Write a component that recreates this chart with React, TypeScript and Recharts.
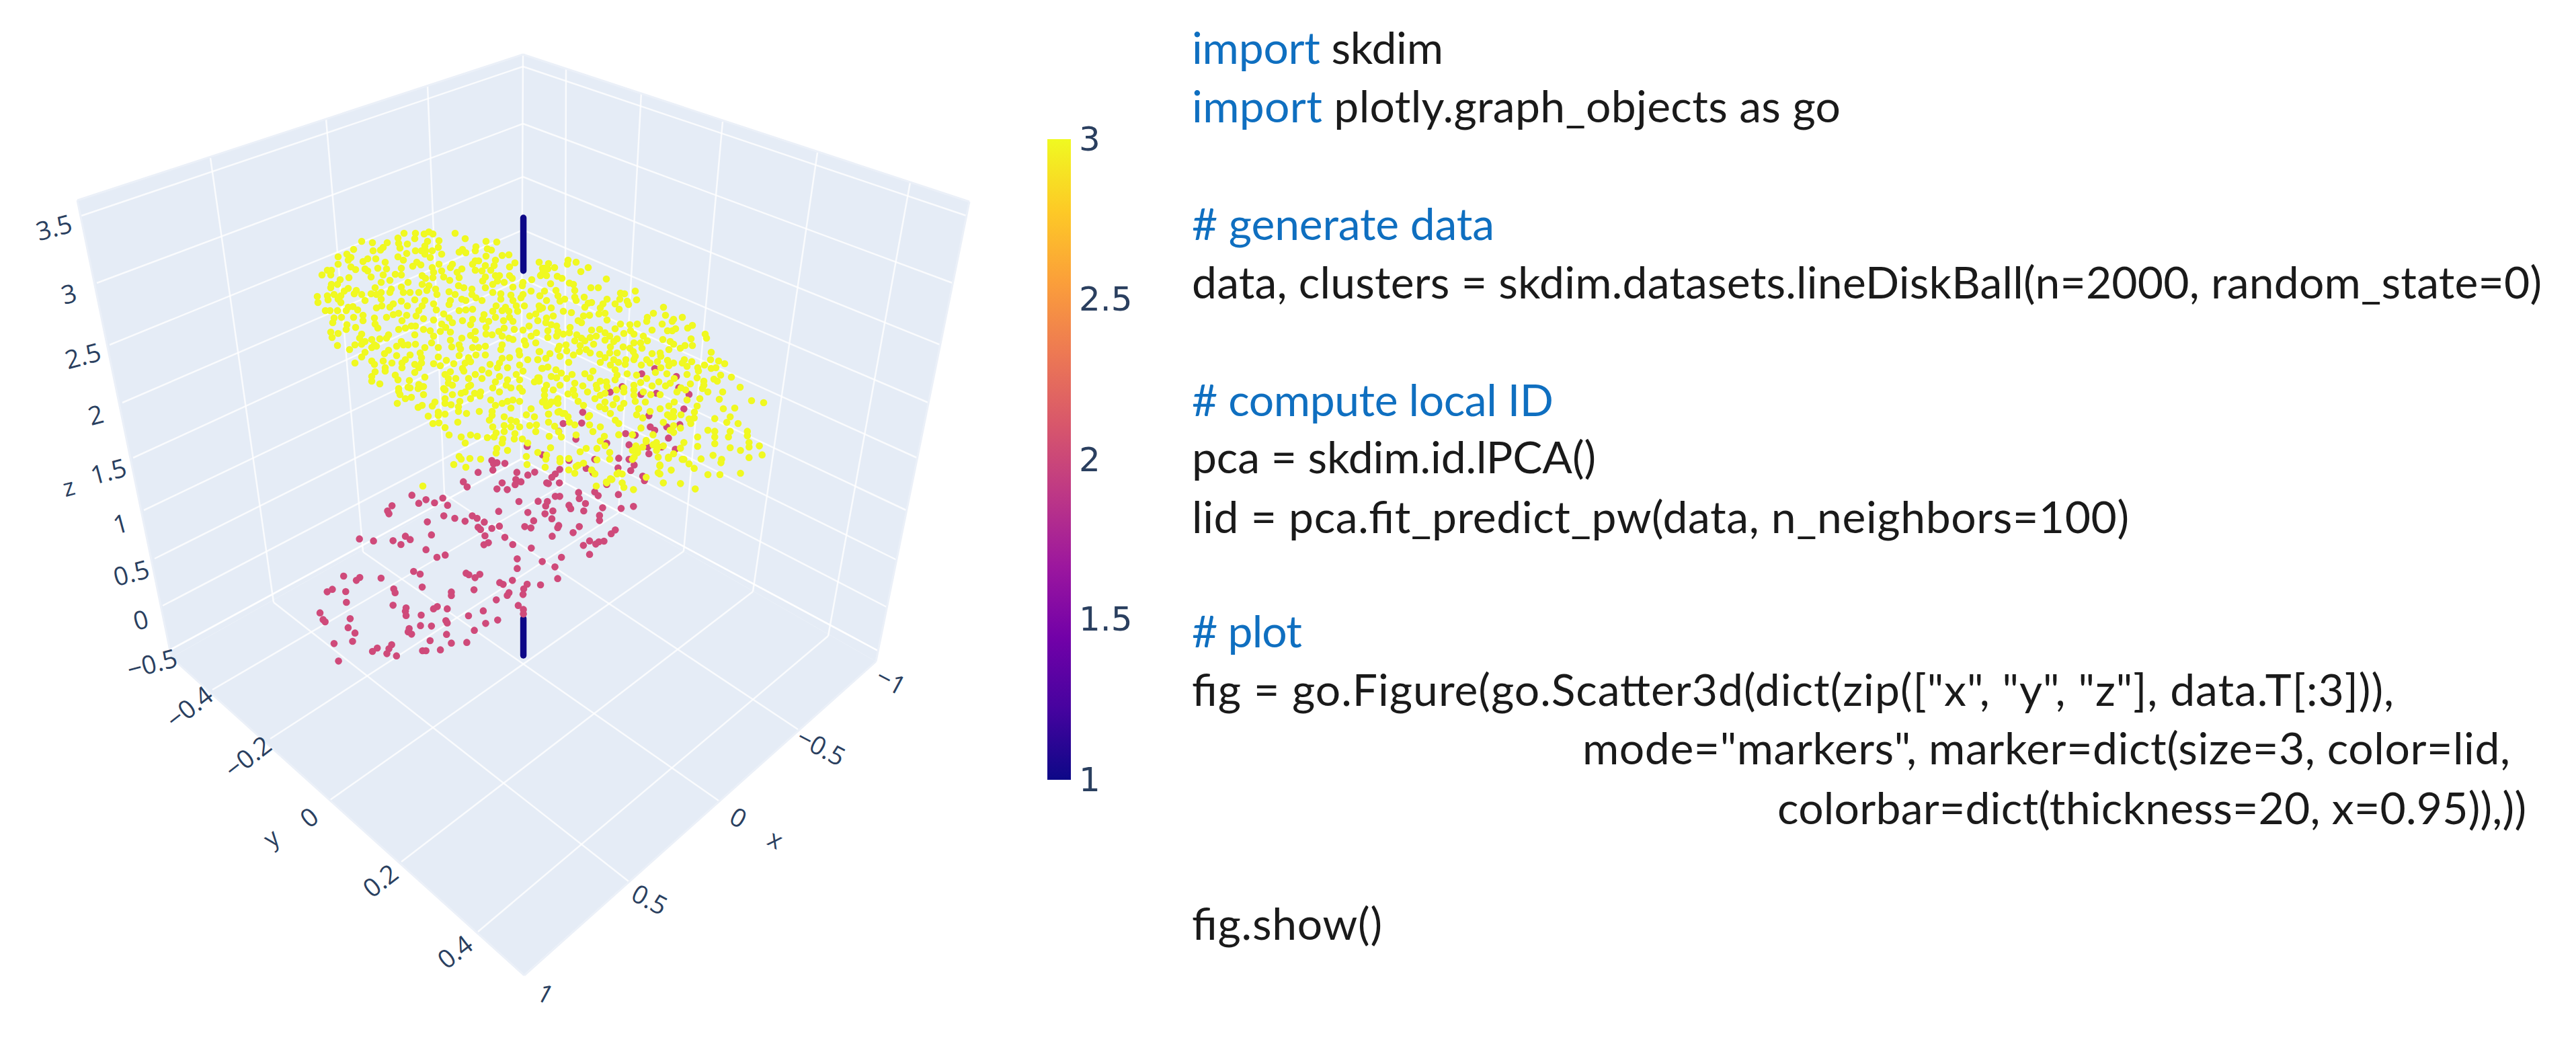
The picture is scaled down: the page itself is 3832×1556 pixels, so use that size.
import {
  ComposedChart,
  Area,
  Line,
  Scatter,
  XAxis,
  YAxis,
  ReferenceLine,
  ReferenceArea,
} from "recharts";

const WIDTH = 3832;
const HEIGHT = 1556;

type Pt = [number, number];

// Walls and floor of the 3D box, as [x, [upper, lower]] on the picture plane
const leftWall: [number, number[]][] = [[115, [298, 298]], [255, [252, 978]], [778, [81, 683]]];
const rightWall: [number, number[]][] = [[778, [81, 683]], [1303, [254, 984]], [1442, [300, 300]]];
const floorPlane: [number, number[]][] = [[255, [978, 978]], [778, [683, 1451]], [1303, [984, 984]]];

// z grid: left edge, back edge, right edge
const zGridLeft: Pt[] = [[121, 321], [144, 421], [163, 513], [182, 599], [198, 681], [214, 759], [230, 831], [242, 901], [254, 966]];
const zGridBack: Pt[] = [[778, 99], [778, 184], [778, 263], [778, 342], [777, 415], [777, 490], [776, 558], [776, 622], [775, 683]];
const zGridRight: Pt[] = [[1438, 321], [1417, 421], [1399, 513], [1381, 599], [1364, 681], [1348, 759], [1334, 833], [1319, 903], [1306, 968]];

// x grid: floor front-right edge, floor back-left edge, top of the left wall
const xGridFront: Pt[] = [[1187, 1085], [1069, 1191], [935, 1311]];
const xGridBack: Pt[] = [[661, 735], [540, 821], [407, 896]];
const xGridTop: Pt[] = [[636, 127], [485, 177], [313, 235]];

// y grid: floor front-left edge, floor back-right edge, top of the right wall
const yGridFront: Pt[] = [[316, 1026], [402, 1099], [491, 1190], [597, 1282], [711, 1386]];
const yGridBack: Pt[] = [[840, 720], [920, 763], [1017, 820], [1120, 880], [1232, 946]];
const yGridTop: Pt[] = [[842, 99], [954, 137], [1075, 181], [1216, 227], [1354, 271]];

const boxEdges: [Pt, Pt][] = [
  [[115, 298], [255, 978]],
  [[255, 978], [780, 1451]],
  [[780, 1451], [1303, 984]],
  [[1303, 984], [1442, 300]],
  [[115, 298], [778, 81]],
  [[778, 81], [1442, 300]],
];

const zTickLabels = ["3.5", "3", "2.5", "2", "1.5", "1", "0.5", "0", "\u22120.5"];
const zTickPos: Pt[] = [[80, 337], [102, 436], [123, 528], [142, 616], [161, 700], [179, 778], [195, 851], [209, 921], [226, 986]];
const yTickLabels = ["\u22120.4", "\u22120.2", "0", "0.2", "0.4"];
const yTickPos: Pt[] = [[281, 1051], [368, 1125], [459, 1215], [565, 1309], [676, 1415]];
const xTickLabels = ["\u22121", "\u22120.5", "0", "0.5", "1"];
const xTickPos: Pt[] = [[1326, 1012], [1222, 1110], [1099, 1215], [967, 1337], [812, 1477]];
const barTickLabels = ["3", "2.5", "2", "1.5", "1"];
const barTickPos: Pt[] = [[1605, 207], [1605, 445], [1605, 684], [1605, 921], [1605, 1160]];

const plasma = ["#f0f921", "#fdca26", "#fb9f3a", "#ed7953", "#d8576b", "#bd3786", "#9c179e", "#7201a8", "#46039f", "#0d0887"];

const lineTop: Pt[] = [[742, 72], [742, 308]];
const lineBottom: Pt[] = [[742, 1860], [742, 2025]];

const yellowFar: Pt[] = [
  [1300,968],[1345,960],[1335,985],[1090,965],[1180,960],[1240,965],[1230,990],[1010,975],[1020,990],[1180,1000],[1368,990],[1170,1020],[1345,1025],[1395,1025],[1280,1020],[1300,1025],[1020,1040],[1250,1050],[1340,1050],[1395,1045],[1300,1050],[1070,1090],[1100,1065],[1130,1075],[1210,1075],[1300,1080],[1400,1075],[1430,1090],[1400,1095],[1250,1092],[1345,1098],[1135,1095],[1075,1110],[1375,1110],[1295,1132],[1400,1142],[1438,1130],[1065,1140],[1135,1140],[1165,1145],[1205,1150],[1260,1148],[1320,1150],[1225,1170],[1318,1165],[1140,1175],[1020,1210],[1173,1198],[1240,1190],[1280,1218],[1315,1218],[1375,1212],[1140,1215],[1030,1215],[1100,1230],[1150,1255],[1200,1258],[1035,1275],[1063,1285],[1243,1282],
  [1060,1150],[1075,1120],[1130,1110],[1140,1180],[1165,1140],[1180,1125],[1210,1150],[1135,1210],[1015,1215],[1000,1240],[985,1255],[1030,1255],[1060,1110],[1090,1095],[1120,1085],[1100,1070],[1150,1090],[1200,1100],[1170,960],[1150,985],[1120,1040],[1180,1030],[1200,1010],[1225,970],[1085,1010],[1060,1040],
];

const yellowBackLeft: Pt[] = [
  [601,347],[618,347],[631,348],[638,345],[644,348],[677,347],[592,354],[617,355],[692,355],[538,359],[554,361],[576,361],[593,362],[606,363],[636,359],[653,358],[723,359],[739,360],[708,367],[570,368],[595,369],[632,366],[652,368],[566,372],[526,371],[555,373],[618,373],[627,373],[633,373],[643,373],[683,375],[688,371],[693,376],[707,373],[731,372],[725,370],[503,382],[516,378],[522,383],[592,382],[605,377],[632,378],[640,383],[657,378],[723,381],[747,380],[757,379],[518,387],[540,389],[547,385],[559,385],[573,390],[600,387],[620,390],[707,388],[712,388],[737,387],[503,393],[614,396],[626,394],[653,393],[673,393],[703,393],[722,395],[735,395],[766,391],[522,397],[543,400],[562,399],[575,400],[597,399],[643,398],[670,398],[687,400],[758,397],[807,399],[487,402],[493,402],[529,401],[547,403],[657,403],[680,405],[707,402],[717,403],[730,402],[479,409],[492,409],[570,409],[588,408],[597,409],[628,410],[645,405],[660,412],[722,412],[737,410],[743,410],[758,410],[805,409],[519,413],[552,412],[580,417],[633,414],[644,413],[683,413],[762,414],[791,416],[506,416],[669,417],[718,418],[740,418],[567,420],[607,420],[750,420],[778,420],[493,423],[502,423],[628,423],[638,425],[682,425],[690,428],[722,428],[733,423],[777,425],[492,428],[558,428],[597,427],[763,427],[702,430],[518,429],[530,432],[582,430],[648,430],[512,433],[567,435],[580,435],[600,435],[610,435],[623,435],[635,432],[668,434],[733,435],[790,433],[745,437],
];
const yellowMidLeft: Pt[] = [
  [538,438],[527,437],[497,438],[552,437],[560,438],[677,438],[702,438],[760,439],[472,441],[487,440],[507,440],[650,438],[778,438],[803,440],[488,446],[503,445],[543,447],[617,446],[632,447],[567,445],[670,447],[687,445],[708,443],[717,447],[745,445],[763,447],[775,443],[473,450],[507,450],[585,452],[597,448],[645,452],[668,453],[693,447],[802,455],[738,455],[752,457],[768,455],[780,455],[518,457],[525,456],[560,458],[568,455],[580,457],[606,455],[628,455],[532,461],[515,462],[484,462],[491,462],[502,462],[623,462],[649,461],[683,462],[693,461],[703,460],[733,463],[747,462],[757,463],[770,463],[807,458],[540,469],[575,472],[585,468],[593,466],[605,469],[619,470],[660,467],[720,468],[788,470],[797,467],[497,473],[508,472],[526,472],[557,473],[630,474],[668,473],[718,475],[737,472],[758,472],[540,477],[598,477],[645,476],[688,477],[703,475],[749,477],[763,478],[800,477],[495,480],[558,482],[673,480],[727,478],[516,483],[700,483],[657,482],[529,487],[562,488],[612,485],[618,485],[663,487],[723,487],[787,485],[515,490],[593,490],[603,488],[630,490],[640,492],[750,488],[765,490],[778,491],[492,494],[503,496],[655,493],[670,494],[707,493],[742,493],[723,497],[732,498],[798,495],[538,497],[578,498],[617,498],[645,500],[700,499],[747,500],[790,500],[494,502],[535,503],[575,503],[687,503],[757,503],[553,505],[565,504],[670,506],[707,505],[763,505],[780,507],[543,508],[597,508],[642,510],
];
const yellowLowLeft: Pt[] = [
  [502,514],[528,513],[538,512],[557,513],[797,510],[782,513],[607,513],[618,512],[590,515],[600,513],[632,517],[652,517],[672,516],[683,513],[722,515],[747,513],[520,520],[553,517],[560,515],[703,517],[712,517],[685,519],[745,520],[772,522],[578,521],[802,523],[543,524],[572,526],[625,525],[538,531],[590,529],[610,528],[683,529],[708,528],[722,528],[773,528],[627,532],[652,531],[697,532],[747,533],[758,532],[570,537],[553,537],[603,535],[664,536],[785,535],[800,535],[528,540],[557,542],[583,540],[598,540],[617,542],[627,540],[645,541],[675,541],[692,540],[700,538],[729,542],[743,540],[773,543],[655,544],[573,547],[598,547],[623,547],[688,548],[740,547],[755,547],[807,548],[558,553],[573,552],[670,553],[717,550],[617,554],[690,552],[778,552],[588,558],[632,561],[662,557],[707,557],[727,555],[768,557],[553,560],[592,565],[667,563],[678,563],[697,563],[743,560],[800,562],[609,566],[553,567],[667,570],[717,563],[755,565],[773,565],[795,568],[565,571],[623,572],[737,568],[673,573],[700,573],[607,576],[628,575],[753,573],[593,578],[660,578],[773,577],
];
const yellowBackRight: Pt[] = [
  [845,387],[857,390],[844,393],[816,392],[802,390],[875,398],[825,398],[810,399],[815,400],[864,404],[808,405],[804,410],[813,410],[829,411],[836,414],[902,415],[847,421],[853,423],[819,422],[879,428],[890,428],[945,433],[855,432],[827,432],[810,433],[923,436],[929,437],[803,440],[830,440],[869,442],[855,442],[922,445],[947,446],[903,445],[840,445],[813,447],[833,448],[857,447],[933,448],[880,450],[897,452],[915,452],[935,453],[875,451],[870,457],[893,458],[921,460],[987,457],[820,458],[803,460],[838,463],[850,465],[891,467],[972,466],[900,466],[990,469],[877,469],[963,472],[1015,472],[823,470],[813,473],[868,470],[1002,475],[903,476],[860,477],[962,478],[1000,478],[812,480],[865,480],[985,482],[948,482],[923,482],[937,483],[1030,484],[820,483],[828,485],[848,487],[1023,488],[915,489],[880,491],[892,490],[970,491],[1005,489],[993,492],[1000,492],[815,492],[830,493],[938,492],[900,495],[847,495],[838,497],[928,496],[943,497],[1049,497],[815,502],[828,500],[858,498],[887,500],[907,500],[957,500],[1051,503],[865,503],[878,502],[918,504],[1028,504],[855,507],[870,507],[900,506],[913,508],[986,505],[963,507],[943,510],[953,510],[997,508],[883,512],[1002,512],[1019,514],[1030,514],[842,513],[863,514],[832,515],[927,516],[908,516],
];
const yellowMidRight: Pt[] = [
  [995,520],[1012,518],[937,518],[955,518],[843,522],[830,520],[872,520],[862,523],[942,523],[1058,524],[818,526],[803,523],[878,525],[892,527],[907,525],[918,525],[970,526],[982,525],[853,528],[833,530],[900,532],[945,530],[983,530],[812,533],[800,535],[943,535],[962,535],[913,535],[1018,535],[1057,535],[993,536],[1069,537],[846,539],[893,539],[920,539],[931,535],[978,538],[967,540],[1002,540],[1015,540],[1029,538],[1078,541],[930,542],[908,543],[954,543],[995,544],[1022,545],[1048,543],[1058,548],[1065,547],[1038,547],[815,546],[806,548],[983,547],[915,550],[1039,552],[827,550],[882,552],[870,556],[933,556],[975,554],[992,556],[835,555],[851,557],[1022,557],[947,558],[820,560],[878,562],[918,558],[1072,558],[802,562],[828,562],[843,563],[1088,561],[1037,562],[962,563],[1003,563],[1062,564],[1067,567],[1047,567],[915,565],[893,567],[902,568],[855,570],[953,569],[980,568],[997,570],[802,567],[1027,571],[833,573],[943,573],[1047,573],[867,574],[813,573],[887,573],[903,575],[928,577],[970,574],[990,574],[1101,576],[1013,577],[810,580],[823,580],[853,580],[888,578],[917,580],[943,580],[1045,578],[1007,583],[1020,580],[874,583],[845,586],[1053,583],[1075,583],[957,583],[928,583],[982,587],[900,585],[968,587],[855,588],[810,588],[893,588],[943,588],[830,593],[885,593],[917,593],[1041,593],[1070,594],[1022,595],[1118,596],[1136,599],[945,597],[807,598],[820,598],[860,597],[900,598],[960,598],[1003,598],[830,600],[928,600],[1037,604],[868,603],[892,605],[912,602],[813,604],[995,604],[950,608],[982,608],[1076,608],[1093,607],[832,612],[900,608],[923,607],[967,612],[816,616],[840,615],[908,615],[1002,612],[1033,613],[877,618],[947,617],[1013,617],[993,617],
];
const yellowCentre: Pt[] = [
  [593,582],[610,577],[622,578],[630,575],[595,587],[603,593],[612,591],[630,587],[591,600],[622,606],[628,603],[643,604],[647,598],[662,580],[662,593],[662,600],[671,602],[673,587],[684,597],[682,605],[682,612],[686,585],[692,583],[700,593],[706,585],[715,583],[714,589],[697,575],[730,595],[737,603],[747,600],[755,597],[763,595],[760,607],[713,612],[694,615],[732,612],[773,597],[777,582],[743,583],[733,577],[760,577],[637,619],[652,613],[652,618],[662,616],[732,618],[728,625],[750,620],[760,625],[768,627],[790,608],[783,617],[795,620],[810,595],[817,602],[827,597],[816,616],[830,613],[837,615],[845,620],[816,628],[825,634],[847,628],[855,632],[875,620],[644,630],[653,629],[662,636],[681,628],[733,635],[750,633],[760,635],[773,635],[788,633],[798,632],[797,642],[750,642],[738,644],[766,645],[831,642],[877,632],[882,642],[893,635],[668,647],[686,650],[700,647],[710,649],[725,651],[735,650],[748,653],[765,653],[777,653],[817,649],[835,650],[857,647],[899,649],[692,659],[747,659],[785,659],[893,656],[900,663],[739,667],[755,670],[819,666],[888,667],[872,667],[738,674],[800,673],[863,672],[683,679],[783,679],[813,677],[907,673],[686,683],[699,682],[715,683],[812,683],[833,682],[846,682],[888,684],[907,683],[675,691],[784,691],[833,687],[868,689],[860,692],[693,695],[811,695],[857,694],[846,699],[855,704],[880,699],[885,705],[902,717],[908,712],[887,723],[629,723],
];

const pinkUpper: Pt[] = [
  [1087,768],[1125,745],[1188,780],[1030,825],[995,850],[1085,860],[1130,855],[1225,860],[1195,830],[1210,925],[1108,955],[915,940],[858,990],[912,988],[845,1025],[895,1060],[1112,1005],[1125,1020],[1160,1005],[1198,995],[1040,1035],[1068,1042],[1165,1055],[1050,1085],[985,1078],[1105,1095],[1145,1095],[1185,1105],[1108,1125],[753,1092],[798,1130],[875,1155],[1020,1145],[950,1150],[1050,1150],[1065,1175],[1055,1200],[1018,1188],[1095,1245],[1090,1225],[925,1190],[945,1210],[985,1262],
];
const pinkMiddle: Pt[] = [
  [650,1155],[655,1170],[665,1165],[688,1168],[653,1198],[610,1208],[723,1208],[755,1220],[775,1207],[848,1195],[835,1215],[825,1230],[720,1240],[735,1250],[718,1263],[680,1255],[665,1282],[695,1285],[810,1255],[815,1258],[847,1255],[567,1250],[578,1273],[417,1310],[458,1330],[437,1346],[483,1344],[507,1323],[521,1355],[359,1357],[346,1380],[350,1393],[729,1338],[785,1337],[812,1338],[807,1358],[835,1315],[848,1315],[903,1298],[905,1325],[923,1347],[950,1295],[960,1312],[1019,1307],[875,1355],[880,1370],[918,1380],[973,1366],[1027,1369],[1063,1360],[670,1382],[755,1387],[828,1380],[805,1393],[825,1415],[772,1424],[964,1400],[964,1423],[510,1402],[542,1413],[572,1426],[593,1402],[607,1413],[628,1430],[462,1429],[845,1445],[842,1455],[905,1450],[746,1450],[764,1456],[672,1448],[650,1458],[610,1453],[617,1463],[630,1491],[474,1487],[398,1493],[412,1508],[362,1513],[385,1530],[305,1514],[264,1505],[826,1493],[887,1477],[1010,1465],[998,1482],[688,1498],[711,1530],[640,1522],[627,1531],[765,1546],[458,1553],[917,1534],[935,1514],[953,1528],[962,1518],[977,1515],[935,1574],
];
const pinkLower: Pt[] = [
  [490,1587],[514,1577],[853,1587],[724,1594],[797,1606],[834,1630],[724,1637],[422,1650],[441,1662],[575,1658],[583,1665],[601,1678],[615,1663],[842,1682],[218,1671],[265,1677],[255,1690],[327,1680],[710,1690],[673,1700],[683,1708],[753,1707],[792,1710],[447,1720],[185,1730],[170,1741],[224,1740],[364,1728],[368,1745],[598,1732],[743,1728],[532,1742],[532,1758],[700,1745],[695,1757],[741,1753],[226,1788],[663,1777],[362,1801],[727,1802],[491,1807],[480,1817],[400,1813],[398,1828],[520,1817],[400,1847],[625,1826],[149,1835],[742,1820],[742,1840],[158,1865],[164,1875],[237,1861],[444,1845],[582,1848],[516,1870],[520,1880],[667,1867],[632,1882],[231,1901],[442,1892],[474,1894],[409,1905],[406,1920],[416,1930],[599,1913],[251,1925],[518,1931],[190,1972],[244,1962],[470,1959],[532,1970],[577,1967],[358,1977],[316,1992],[350,1995],[302,2007],[344,2017],[372,2027],[448,2004],[458,2004],[500,2000],[203,2050],
];

// Code listing: text runs, with the left and right end of every line
const codeLines = [
  { baseline: 95, start: 1773, end: 2147, runs: [["import", true], [" skdim", false]] },
  { baseline: 182, start: 1773, end: 2738, runs: [["import", true], [" plotly.graph_objects as go", false]] },
  { baseline: 357, start: 1773, end: 2223, runs: [["# generate data", true]] },
  { baseline: 444, start: 1773, end: 3781, runs: [["data, clusters = skdim.datasets.lineDiskBall(n=2000, random_state=0)", false]] },
  { baseline: 619, start: 1773, end: 2311, runs: [["# compute local ID", true]] },
  { baseline: 704, start: 1773, end: 2374, runs: [["pca = skdim.id.lPCA()", false]] },
  { baseline: 793, start: 1773, end: 3167, runs: [["lid = pca.fit_predict_pw(data, n_neighbors=100)", false]] },
  { baseline: 963, start: 1773, end: 1937, runs: [["# plot", true]] },
  { baseline: 1050, start: 1773, end: 3561, runs: [['fig = go.Figure(go.Scatter3d(dict(zip(["x", "y", "z"], data.T[:3])),', false]] },
  { baseline: 1137, start: 2354, end: 3734, runs: [['mode="markers", marker=dict(size=3, color=lid,', false]] },
  { baseline: 1226, start: 2644, end: 3758, runs: [["colorbar=dict(thickness=20, x=0.95)),))", false]] },
  { baseline: 1398, start: 1773, end: 2056, runs: [["fig.show()", false]] },
];

const toPoints = (pts: Pt[]) => pts.map(([x, y]) => ({ x, y }));
const toBand = (pts: [number, number[]][]) => pts.map(([x, band]) => ({ x, band }));
const toTicks = (labels: string[], pts: Pt[]) => labels.map((label, i) => ({ x: pts[i][0], y: pts[i][1], label }));

const yellowNear = toPoints([...yellowBackLeft, ...yellowMidLeft, ...yellowLowLeft, ...yellowBackRight, ...yellowMidRight, ...yellowCentre]);
const pink = toPoints([...pinkUpper, ...pinkMiddle, ...pinkLower]);

const dot = (fill: string) => (props: any) => <circle cx={props.cx} cy={props.cy} r={5.3} fill={fill} />;

const tickLabel = (angle: number, size: number, anchor: "middle" | "start", family = "'Open Sans', sans-serif") => (props: any) => (
  <text
    x={props.cx}
    y={props.cy}
    transform={`rotate(${angle} ${props.cx} ${props.cy})`}
    textAnchor={anchor}
    dominantBaseline="central"
    fontFamily={family}
    fontSize={size}
    fill="#2a3f5f"
  >
    {props.payload.label}
  </text>
);

const segment = (a: Pt, b: Pt) => [{ x: a[0], y: a[1] }, { x: b[0], y: b[1] }];

export default function App() {
  const gridLines: [Pt, Pt][] = [
    ...zGridLeft.flatMap((p, i): [Pt, Pt][] => [[p, zGridBack[i]], [zGridBack[i], zGridRight[i]]]),
    ...xGridFront.flatMap((p, i): [Pt, Pt][] => [[p, xGridBack[i]], [xGridBack[i], xGridTop[i]]]),
    ...yGridFront.flatMap((p, i): [Pt, Pt][] => [[p, yGridBack[i]], [yGridBack[i], yGridTop[i]]]),
    [[775, 683], [778, 81]],
    [[775, 683], [255, 966]],
    [[775, 683], [1306, 968]],
  ];

  return (
    <div style={{ position: "absolute", left: 0, top: 0, width: WIDTH, height: HEIGHT, background: "#fff" }}>
      <ComposedChart width={WIDTH} height={HEIGHT} margin={{ top: 0, right: 0, bottom: 0, left: 0 }}>
        <defs>
          <linearGradient id="plasmaBar" x1="0" y1="0" x2="0" y2="1">
            {plasma.map((c, i) => (
              <stop key={c} offset={`${(i * 100) / (plasma.length - 1)}%`} stopColor={c} />
            ))}
          </linearGradient>
        </defs>
        <XAxis xAxisId="px" type="number" dataKey="x" domain={[0, WIDTH]} hide />
        <YAxis yAxisId="px" type="number" dataKey="y" domain={[0, HEIGHT]} reversed hide />
        <XAxis xAxisId="plane" type="number" dataKey="x" domain={[-784, 6726.72]} hide />
        <YAxis yAxisId="plane" type="number" dataKey="y" domain={[-900, 3768]} reversed hide />

        {[leftWall, rightWall, floorPlane].map((wall, i) => (
          <Area
            key={i}
            xAxisId="px"
            yAxisId="px"
            data={toBand(wall)}
            dataKey="band"
            type="linear"
            stroke="none"
            fill="#e5ecf6"
            fillOpacity={1}
            isAnimationActive={false}
          />
        ))}
        {gridLines.map(([a, b], i) => (
          <ReferenceLine key={i} xAxisId="px" yAxisId="px" segment={segment(a, b)} stroke="#ffffff" strokeOpacity={0.8} strokeWidth={2.5} ifOverflow="visible" />
        ))}
        {boxEdges.map(([a, b], i) => (
          <ReferenceLine key={`e${i}`} xAxisId="px" yAxisId="px" segment={segment(a, b)} stroke="#ebf0f8" strokeWidth={3} ifOverflow="visible" />
        ))}

        <Line xAxisId="plane" yAxisId="plane" data={toPoints(lineTop)} dataKey="y" stroke="#0d0887" strokeWidth={9.5} strokeLinecap="round" dot={false} isAnimationActive={false} />
        <Line xAxisId="plane" yAxisId="plane" data={toPoints(lineBottom)} dataKey="y" stroke="#0d0887" strokeWidth={9.5} strokeLinecap="round" dot={false} isAnimationActive={false} />

        <Scatter xAxisId="plane" yAxisId="plane" data={pink} shape={dot("#cf4a7a")} isAnimationActive={false} />
        <Scatter xAxisId="plane" yAxisId="plane" data={toPoints(yellowFar)} shape={dot("#f0f921")} isAnimationActive={false} />
        <Scatter xAxisId="px" yAxisId="px" data={yellowNear} shape={dot("#f0f921")} isAnimationActive={false} />

        <Scatter xAxisId="px" yAxisId="px" data={toTicks(zTickLabels, zTickPos)} shape={tickLabel(-15, 38, "middle")} isAnimationActive={false} />
        <Scatter xAxisId="px" yAxisId="px" data={toTicks(yTickLabels, yTickPos)} shape={tickLabel(-38, 38, "middle")} isAnimationActive={false} />
        <Scatter xAxisId="px" yAxisId="px" data={toTicks(xTickLabels, xTickPos)} shape={tickLabel(28, 38, "middle")} isAnimationActive={false} />
        <Scatter xAxisId="px" yAxisId="px" data={[{ x: 102, y: 724, label: "z" }]} shape={tickLabel(-15, 36, "middle")} isAnimationActive={false} />
        <Scatter xAxisId="px" yAxisId="px" data={[{ x: 403, y: 1246, label: "y" }]} shape={tickLabel(-38, 36, "middle")} isAnimationActive={false} />
        <Scatter xAxisId="px" yAxisId="px" data={[{ x: 1154, y: 1248, label: "x" }]} shape={tickLabel(28, 36, "middle")} isAnimationActive={false} />

        <ReferenceArea xAxisId="px" yAxisId="px" x1={1558} x2={1593} y1={207} y2={1160} fill="url(#plasmaBar)" fillOpacity={1} stroke="none" ifOverflow="visible" />
        <Scatter xAxisId="px" yAxisId="px" data={toTicks(barTickLabels, barTickPos)} shape={tickLabel(0, 50, "start", "'DejaVu Sans', sans-serif")} isAnimationActive={false} />
      </ComposedChart>

      <svg width={WIDTH} height={HEIGHT} style={{ position: "absolute", left: 0, top: 0, pointerEvents: "none" }}>
        {codeLines.map((line) => (
          <text
            key={line.baseline}
            x={line.start}
            y={line.baseline}
            textLength={line.end - line.start}
            lengthAdjust="spacing"
            fontFamily="Lato, sans-serif"
            fontSize={66}
            fill="#1a1a1a"
            xmlSpace="preserve"
          >
            {line.runs.map(([t, isBlue], i) => (
              <tspan key={i} fill={isBlue ? "#0f6fc0" : "#1a1a1a"}>{t as string}</tspan>
            ))}
          </text>
        ))}
      </svg>
    </div>
  );
}
